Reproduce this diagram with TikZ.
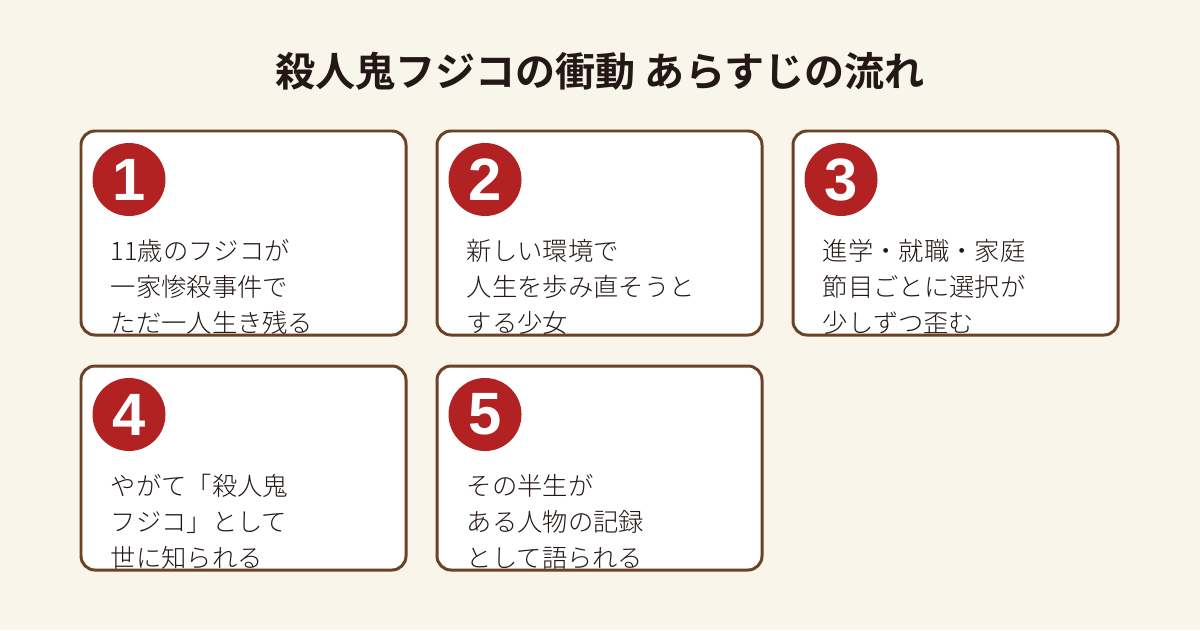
\documentclass[tikz,border=0pt]{standalone}
\usepackage{fontspec}
\newfontfamily\cjk{Noto Sans CJK JP Light}
\newfontfamily\cjkbold{Noto Sans CJK JP Bold}
\newfontfamily\digits{Liberation Sans}
\usetikzlibrary{positioning}

\definecolor{paper}{HTML}{FAF5EA}
\definecolor{frame}{HTML}{6B4226}
\definecolor{badgered}{HTML}{B22222}
\definecolor{ink}{HTML}{231815}

\begin{document}
\begin{tikzpicture}[
    card/.style={rectangle, draw=frame, line width=1.7pt, fill=white, rounded corners=0.28cm, minimum width=6.5cm, minimum height=4.08cm},
    badge/.style={circle, fill=badgered, minimum size=1.46cm, inner sep=0pt, text=white, font=\digits\bfseries\fontsize{34}{34}\selectfont},
    body/.style={anchor=base west, align=left, inner sep=0pt, text=ink, font=\cjk\fontsize{14.4}{20.5}\selectfont},
    heading/.style={text=ink, font=\cjkbold\fontsize{22.8}{26}\selectfont}
]

% Canvas
\fill[paper] (0,0) rectangle (24,12.6);
\useasboundingbox (0,0) rectangle (24,12.6);

% Title
\node[heading] (title) at (12,11.17) {殺人鬼フジコの衝動 あらすじの流れ};

% Cards, first row
\node[card] (c1) at (4.87,7.94) {};
\node[card] (c2) at (11.99,7.94) {};
\node[card] (c3) at (19.11,7.94) {};

% Cards, second row
\node[card] (c4) at (4.87,3.24) {};
\node[card] (c5) at (11.99,3.24) {};

% Number badges
\node[badge] (n1) at ([xshift=0.99cm, yshift=-1.0cm]c1.north west) {1};
\node[badge] (n2) at ([xshift=0.99cm, yshift=-1.0cm]c2.north west) {2};
\node[badge] (n3) at ([xshift=0.99cm, yshift=-1.0cm]c3.north west) {3};
\node[badge] (n4) at ([xshift=0.99cm, yshift=-1.0cm]c4.north west) {4};
\node[badge] (n5) at ([xshift=0.99cm, yshift=-1.0cm]c5.north west) {5};

% Story text (base = last line)
\node[body] (t1) at ([xshift=0.62cm, yshift=-4.06cm]c1.north west) {11歳のフジコが\\一家惨殺事件で\\ただ一人生き残る};
\node[body] (t2) at ([xshift=0.62cm, yshift=-4.06cm]c2.north west) {新しい環境で\\人生を歩み直そうと\\する少女};
\node[body] (t3) at ([xshift=0.62cm, yshift=-4.06cm]c3.north west) {進学・就職・家庭\\節目ごとに選択が\\少しずつ歪む};
\node[body] (t4) at ([xshift=0.62cm, yshift=-4.06cm]c4.north west) {やがて「殺人鬼\\フジコ」として\\世に知られる};
\node[body] (t5) at ([xshift=0.62cm, yshift=-4.06cm]c5.north west) {その半生が\\ある人物の記録\\として語られる};

\end{tikzpicture}
\end{document}
